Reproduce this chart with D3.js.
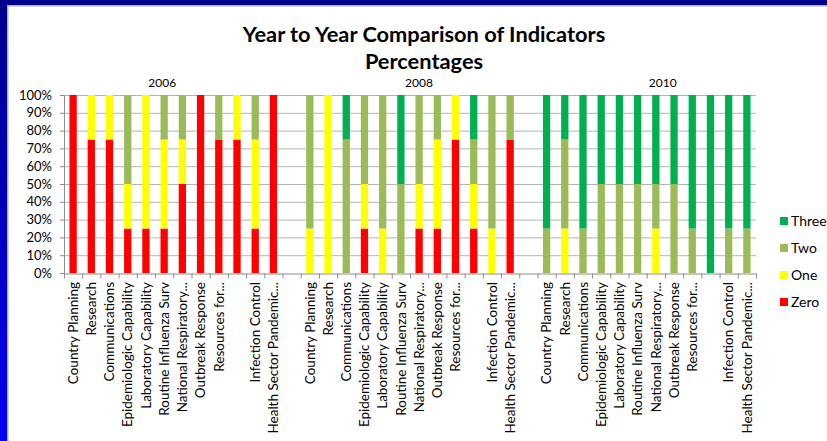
<!DOCTYPE html>
<html>
<head>
<meta charset="utf-8">
<style>
  body { margin: 0; background: #fff; }
  text { font-family: Lato, "Open Sans", sans-serif; fill: #000; }
  .grid line { stroke: #b4b4b4; }
  .axis path, .axis line { stroke: #8c8c8c; }
</style>
<script src="https://cdn.jsdelivr.net/npm/d3@7"></script>
</head>
<body>
<script>
// chart data (percent of countries at each level)
var years = ["2006", "2008", "2010"];
var categories = ["Country Planning", "Research", "Communications", "Epidemiologic Capability",
  "Laboratory Capability", "Routine Influenza Surv", "National Respiratory...", "Outbreak Response",
  "Resources for...", "", "Infection Control", "Health Sector Pandemic..."];
var levels = ["Zero", "One", "Two", "Three"];
var levelColors = ["#ff0000", "#ffff00", "#9bbb59", "#00b050"];
var yTicks = [0, 10, 20, 30, 40, 50, 60, 70, 80, 90, 100];

var zero2006  = [100, 75, 75, 25, 25, 25, 50, 100, 75, 75, 25, 100];
var one2006   = [0, 25, 25, 25, 75, 50, 25, 0, 0, 25, 50, 0];
var two2006   = [0, 0, 0, 50, 0, 25, 25, 0, 25, 0, 25, 0];
var three2006 = [0, 0, 0, 0, 0, 0, 0, 0, 0, 0, 0, 0];

var zero2008  = [0, 0, 0, 25, 0, 0, 25, 25, 75, 25, 0, 75];
var one2008   = [25, 100, 0, 25, 25, 0, 25, 50, 25, 25, 25, 0];
var two2008   = [75, 0, 75, 50, 75, 50, 50, 25, 0, 25, 75, 25];
var three2008 = [0, 0, 25, 0, 0, 50, 0, 0, 0, 25, 0, 0];

var zero2010  = [0, 0, 0, 0, 0, 0, 0, 0, 0, 0, 0, 0];
var one2010   = [0, 25, 0, 0, 0, 0, 25, 0, 0, 0, 0, 0];
var two2010   = [25, 50, 25, 50, 50, 50, 25, 50, 25, 0, 25, 25];
var three2010 = [75, 25, 75, 50, 50, 50, 50, 50, 75, 100, 75, 75];

var series = {
  "2006": [zero2006, one2006, two2006, three2006],
  "2008": [zero2008, one2008, two2008, three2008],
  "2010": [zero2010, one2010, two2010, three2010]
};

// year captions sit a little off the group centres in the original
var yearLabelNudge = [-11, 9, 16];

var W = 827, H = 441;
var plot = { left: 64, right: 756, top: 95, bottom: 273 };

var svg = d3.select("body").append("svg")
    .attr("width", W)
    .attr("height", H);

// slide frame: navy top, blue gradient on the left
var defs = svg.append("defs");
var grad = defs.append("linearGradient").attr("id", "leftEdge")
    .attr("x1", 0).attr("y1", 0).attr("x2", 0).attr("y2", 1);
grad.append("stop").attr("offset", "0%").attr("stop-color", "#00008a");
grad.append("stop").attr("offset", "100%").attr("stop-color", "#0000f2");

svg.append("rect").attr("width", W).attr("height", H).attr("fill", "#fff");
svg.append("rect").attr("x", 0).attr("y", 0).attr("width", 8).attr("height", H).attr("fill", "url(#leftEdge)");
svg.append("rect").attr("x", 0).attr("y", 0).attr("width", W).attr("height", 5).attr("fill", "#00008a");
svg.append("rect").attr("x", 8).attr("y", 5).attr("width", W - 8).attr("height", 1.5).attr("fill", "#b0b0b0");
svg.append("rect").attr("x", 7).attr("y", 5).attr("width", 1.5).attr("height", H).attr("fill", "#b0b0b0");

// title
svg.append("text")
    .attr("x", 424).attr("y", 42)
    .attr("text-anchor", "middle")
    .style("font-size", "21.8px").style("font-weight", "bold")
    .text("Year to Year Comparison of Indicators");
svg.append("text")
    .attr("x", 424).attr("y", 69)
    .attr("text-anchor", "middle")
    .style("font-size", "21.8px").style("font-weight", "bold")
    .text("Percentages");

// build slots: 12 categories per year, one empty slot between years
var slots = [];
var rows = [];
years.forEach(function(yr, g) {
  categories.forEach(function(c, i) {
    var key = yr + "|" + i;
    slots.push(key);
    var row = { key: key, year: yr, label: c };
    levels.forEach(function(l, k) { row[l] = series[yr][k][i]; });
    rows.push(row);
  });
  if (g < years.length - 1) slots.push("gap" + g);
});

var x = d3.scaleBand()
    .domain(slots)
    .range([plot.left, plot.right])
    .paddingInner(0.6)
    .paddingOuter(0.3);

var y = d3.scaleLinear()
    .domain([0, 100])
    .range([plot.bottom, plot.top]);

// gridlines
svg.append("g").attr("class", "grid")
  .selectAll("line")
  .data(yTicks.slice(1))
  .enter().append("line")
    .attr("x1", plot.left).attr("x2", plot.right)
    .attr("y1", function(d) { return y(d) + 0.5; })
    .attr("y2", function(d) { return y(d) + 0.5; });

// stacked bars
var stack = d3.stack().keys(levels);
var layers = stack(rows);

svg.append("g").selectAll("g")
  .data(layers)
  .enter().append("g")
    .attr("fill", function(d, i) { return levelColors[i]; })
  .selectAll("rect")
  .data(function(d) { return d; })
  .enter().append("rect")
    .attr("x", function(d) { return x(d.data.key); })
    .attr("width", x.bandwidth())
    .attr("y", function(d) { return y(d[1]); })
    .attr("height", function(d) { return y(d[0]) - y(d[1]); });

// y axis
var yAxis = svg.append("g").attr("class", "axis")
    .attr("transform", "translate(" + plot.left + ",0)")
    .call(d3.axisLeft(y).tickValues(yTicks).tickSize(4).tickPadding(8)
      .tickFormat(function(d) { return d + "%"; }));
yAxis.selectAll("text").style("font-size", "13px").style("font-family", "Lato, sans-serif").attr("fill", "#000");

// x axis with ticks on slot boundaries
var xb = d3.scaleLinear().domain([0, slots.length]).range([plot.left, plot.right]);
svg.append("g").attr("class", "axis")
    .attr("transform", "translate(0," + (plot.bottom + 0.5) + ")")
    .call(d3.axisBottom(xb).tickValues(d3.range(0, slots.length + 1)).tickSize(5).tickSizeOuter(0).tickFormat(""));

// category labels, rotated
svg.append("g").selectAll("text")
  .data(rows)
  .enter().append("text")
    .attr("transform", function(d) {
      return "translate(" + (x(d.key) + x.bandwidth() / 2) + "," + (plot.bottom + 9) + ")rotate(-90)";
    })
    .attr("dy", "0.35em")
    .attr("text-anchor", "end")
    .style("font-size", "13.5px")
    .text(function(d) { return d.label; });

// year captions
svg.append("g").selectAll("text")
  .data(years)
  .enter().append("text")
    .attr("x", function(d, g) {
      var first = x(d + "|0"), last = x(d + "|" + (categories.length - 1)) + x.bandwidth();
      return (first + last) / 2 + yearLabelNudge[g];
    })
    .attr("y", 87)
    .attr("text-anchor", "middle")
    .style("font-size", "12px")
    .text(function(d) { return d; });

// legend, top to bottom Three..Zero
var legendOrder = levels.slice().reverse();
var legend = svg.append("g").selectAll("g")
  .data(legendOrder)
  .enter().append("g")
    .attr("transform", function(d, i) { return "translate(780," + (221 + i * 27) + ")"; });
legend.append("rect")
    .attr("x", 0).attr("y", -4)
    .attr("width", 8).attr("height", 8)
    .attr("fill", function(d) { return levelColors[levels.indexOf(d)]; });
legend.append("text")
    .attr("x", 11).attr("dy", "0.35em")
    .style("font-size", "14px")
    .text(function(d) { return d; });
</script>
</body>
</html>
